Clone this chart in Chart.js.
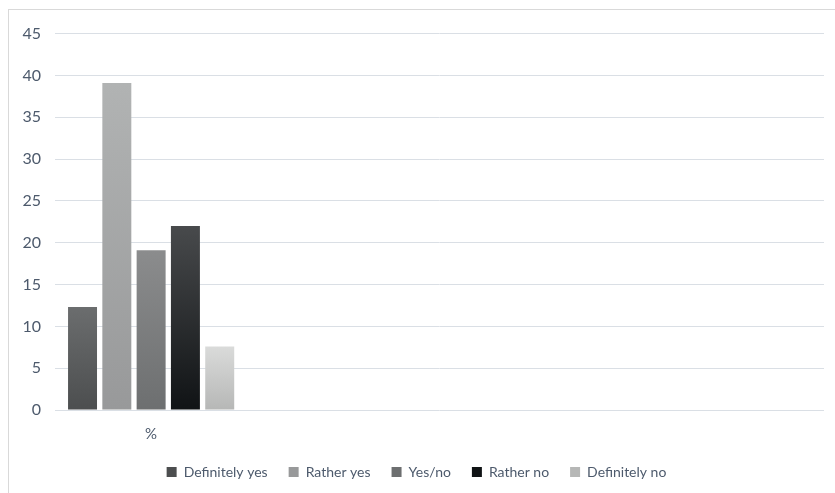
<!DOCTYPE html>
<html>
<head>
<meta charset="utf-8">
<title>Survey answers</title>
<script src="https://cdn.jsdelivr.net/npm/chart.js@4/dist/chart.umd.min.js"></script>
<style>
  html, body { margin: 0; padding: 0; background: #fff; overflow: hidden; }
  #wrap {
    position: absolute; left: 8px; top: 9px;
    border-left: 1px solid #d9d9d9; border-top: 1px solid #d9d9d9;
  }
  canvas { display: block; }
</style>
</head>
<body>
<div id="wrap"><canvas id="myChart" width="826" height="483"></canvas></div>
<script>
  // only the first category holds answers, the rest stay empty
  const categories = ['%', '', '', ''];
  const answers = ['Definitely yes', 'Rather yes', 'Yes/no', 'Rather no', 'Definitely no'];
  const shares = [12.3, 39.1, 19.1, 22.0, 7.6];
  const yTicks = [0, 5, 10, 15, 20, 25, 30, 35, 40, 45];

  // top / bottom shade of each bar, plus a flat tone for the legend box
  const shades = [
    ['#6b6d6e', '#4c4e4f', '#58595a'],
    ['#b1b3b3', '#98999a', '#a6a7a7'],
    ['#8b8c8d', '#6d6f70', '#7b7c7d'],
    ['#484a4c', '#101315', '#1e2124'],
    ['#dadbda', '#b6b7b6', '#cfd0cf']
  ];

  const textColor = '#4d5a6c';
  const fontFamily = 'Lato, "Open Sans", sans-serif';

  function barFill(i) {
    return (c) => {
      const chart = c.chart;
      const area = chart.chartArea;
      if (!area || c.raw === undefined || c.raw === null) {
        return shades[i][2];
      }
      const y = chart.scales.y;
      const top = y.getPixelForValue(c.raw);
      const bottom = y.getPixelForValue(0);
      const g = chart.ctx.createLinearGradient(0, top, 0, bottom);
      g.addColorStop(0, shades[i][0]);
      g.addColorStop(1, shades[i][1]);
      return g;
    };
  }

  const datasets = answers.map((name, i) => ({
    label: name,
    data: [shares[i]],
    backgroundColor: barFill(i),
    borderWidth: 0,
    categoryPercentage: 0.892,
    barPercentage: 0.845
  }));

  let myChart = new Chart(document.getElementById('myChart'), {
    type: 'bar',
    data: { labels: categories, datasets: datasets },
    options: {
      responsive: false,
      animation: false,
      layout: { padding: { top: 18.5, right: 11, left: 0, bottom: 4 } },
      scales: {
        x: {
          grid: { display: false },
          border: { display: false },
          ticks: { color: textColor, padding: 7, font: { family: fontFamily, size: 15 } },
          afterFit: (scale) => { scale.height = 34; }
        },
        y: {
          min: 0,
          max: 45,
          afterBuildTicks: (scale) => { scale.ticks = yTicks.map(v => ({ value: v })); },
          grid: { color: '#dadfe5', lineWidth: 1, drawTicks: false },
          border: { display: false },
          ticks: { color: textColor, padding: 14, font: { family: fontFamily, size: 16 } },
          afterFit: (scale) => { scale.width = 46; }
        }
      },
      plugins: {
        tooltip: { enabled: false },
        legend: {
          display: true,
          position: 'bottom',
          labels: {
            color: textColor,
            boxWidth: 10,
            boxHeight: 10,
            padding: 21,
            font: { family: fontFamily, size: 14 }
          }
        }
      }
    }
  });
</script>
</body>
</html>
